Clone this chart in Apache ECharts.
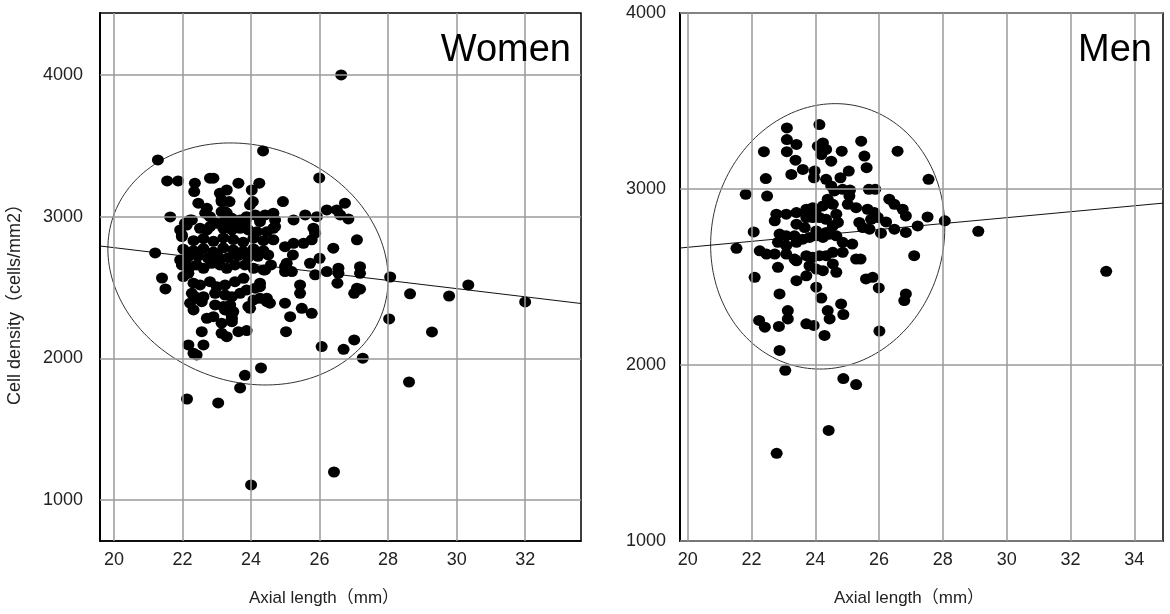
<!DOCTYPE html>
<html><head><meta charset="utf-8">
<script src="https://cdn.jsdelivr.net/npm/echarts@6/dist/echarts.min.js"></script>
<style>html,body{margin:0;padding:0;background:#fff}#c{width:1170px;height:614px}</style>
</head><body><div id="c"></div>
<script>
// Women: [axial length (mm), cell density (cells/mm2)]
const women = [
[26.63,4000],[21.28,3400],[24.35,3464],[21.55,3252],[21.87,3252],[21.64,2998],[21.20,2744],[21.40,2567],[21.50,2490],[22.13,1713],[23.04,1685],[24.00,1107],[26.42,1198],[23.82,1880],[23.68,1791],[24.29,1932],[28.61,1833],[29.28,2186],[28.64,2455],[29.78,2440],[30.34,2518],[32.00,2398],[28.06,2574],[28.03,2278],[27.26,2001],[26.06,2083],[26.70,2064],[27.01,2130],[25.99,3273],
[22.80,3271],[22.90,3271],[22.36,3236],[22.34,3177],[23.63,3236],[24.24,3236],[24.02,3188],[23.09,3165],[23.29,3188],[23.14,3106],[23.37,3106],[24.05,3106],[23.97,3083],[24.93,3106],[26.74,3095],[26.21,3047],[26.50,3047],[26.60,3012],[26.84,2984],[22.46,3095],[22.71,3059],[22.66,3024],[22.22,2977],[22.07,2953],[21.93,2906],[21.98,2871],[22.51,2918],[22.80,2930],[23.00,2953],[23.24,3036],[23.24,2977],[23.43,2941],[23.68,2977],[23.87,3000],[24.12,3012],[24.41,3012],[24.65,3024],[24.70,2977],[24.65,2918],[25.24,2977],[25.58,3012],[25.92,3000],[25.82,2918],[25.87,2883],[25.77,2836],[25.53,2812],[25.24,2812],[24.99,2788],[24.65,2836],[26.40,2777],[27.09,2836],
[23.14,3118],[22.80,3000],[23.14,3035],[23.29,3024],[23.44,2988],[23.87,2988],[23.82,2953],[24.26,2965],[22.27,2977],[22.12,2941],[21.98,2859],[22.71,2906],[23.19,2918],[23.44,2906],[23.68,2918],[23.92,2906],[24.17,2894],[24.46,2894],[24.70,2930],
[22.32,2830],[22.61,2845],[22.90,2826],[23.19,2850],[23.48,2838],[23.77,2820],[24.07,2848],[24.36,2830],
[22.02,2770],[22.32,2760],[22.61,2775],[22.90,2750],[23.19,2780],[23.48,2765],[23.77,2755],[24.07,2772],[24.36,2760],
[22.16,2715],[22.45,2722],[22.74,2708],[23.04,2718],[23.33,2710],[23.62,2725],[23.91,2712],[24.20,2720],
[21.93,2694],[22.02,2577],[22.22,2647],[22.17,2600],
[21.98,2659],[22.41,2659],[22.61,2635],[22.85,2671],[23.09,2659],[23.29,2635],[23.53,2659],[23.82,2659],[24.07,2635],[24.36,2624],
[22.32,2530],[22.51,2518],[22.80,2541],[23.00,2506],[23.24,2518],[23.53,2541],[23.78,2565],[24.12,2495],[24.26,2530],
[22.27,2459],[22.36,2435],[22.61,2435],[22.95,2459],[23.24,2447],[23.44,2435],[23.68,2459],[23.87,2483],
[22.22,2389],[22.56,2400],[22.95,2377],[23.19,2365],[23.39,2377],[23.48,2330],[23.92,2365],[24.07,2412],[24.26,2424],[24.46,2424],
[24.26,2506],[24.46,2400],[23.97,2353],
[22.32,2342],[22.71,2283],[22.90,2294],[23.44,2283],[23.44,2259],[23.14,2248],[22.56,2188],[23.14,2177],[23.29,2153],
[23.63,2188],[23.87,2196],[23.43,2306],[23.24,2342],
[22.17,2095],[22.32,2036],[22.41,2024],[22.61,2095],
[24.99,2389],[25.14,2294],[25.48,2353],[25.77,2318],[25.02,2188],[25.43,2518],[25.43,2459],[25.87,2589],[26.21,2612],[26.55,2636],[26.55,2600],[26.52,2530],[27.18,2647],[27.18,2600],[27.09,2495],[27.01,2459],[27.18,2488],[26.00,2706],[25.72,2671],[25.04,2671],[24.99,2612],[25.19,2612],[25.22,2730],[24.58,2659],[24.41,2624],[24.50,2730],[24.99,2647],[24.55,2389]
];
// Men: [axial length (mm), cell density (cells/mm2)]
const men = [
[23.11,3347],[24.13,3366],[23.11,3281],[23.41,3253],[22.39,3212],[23.11,3212],[24.08,3243],[24.24,3262],[24.19,3196],[24.34,3225],[24.83,3215],[25.44,3272],[25.54,3187],[25.61,3121],[26.58,3215],[23.38,3164],[23.61,3111],[24.50,3158],[23.25,3083],[23.98,3102],[23.96,3064],[24.34,3055],[24.50,3017],[24.60,2989],[24.79,3064],[25.05,3102],[22.45,3059],[22.49,2960],[21.82,2970],[25.09,2994],[25.68,2998],[25.88,2998],[27.55,3055],[26.32,2942],[26.48,2913],[26.74,2885],[26.84,2847],[27.52,2841],[28.06,2819],[27.21,2790],[26.84,2753],[26.06,2749],[26.48,2772],[26.22,2813],[25.64,2885],[25.85,2866],[25.75,2828],[25.96,2838],[25.02,2913],[25.28,2894],[25.38,2810],[25.49,2781],[25.70,2772],[24.39,2942],[24.55,2913],[24.24,2904],[24.03,2885],[24.66,2857],[24.71,2810],
[22.78,2857],[23.09,2857],[23.41,2866],[23.72,2885],[23.92,2894],[23.72,2838],[23.92,2838],[24.13,2838],[24.34,2828],
[22.73,2819],[23.41,2800],[23.67,2781],[24.03,2762],[24.34,2753],[24.55,2790],
[22.07,2756],[21.53,2663],[22.26,2649],[22.47,2630],[22.73,2630],[22.88,2744],[23.09,2734],[23.35,2734],
[22.83,2697],[23.09,2678],[23.41,2697],[23.61,2715],[23.82,2725],[24.03,2734],[24.24,2725],[24.45,2743],[24.66,2734],[24.86,2697],
[23.09,2630],[23.35,2602],[23.72,2621],[23.92,2612],[24.13,2621],[24.34,2621],[24.55,2640],[24.86,2640],
[22.83,2555],[23.41,2592],[23.82,2564],[24.03,2545],[24.24,2536],[24.55,2574],[24.66,2527],
[25.16,2687],[25.42,2602],[27.10,2621],[22.10,2498],[23.41,2479],[23.72,2507],[24.03,2442],[24.19,2380],[22.88,2404],[25.59,2489],[25.80,2498],[25.99,2438],[26.84,2404],[26.79,2366],[23.14,2309],[23.14,2262],[22.24,2253],[22.42,2215],[22.86,2219],[23.72,2234],[23.95,2225],[24.29,2168],[24.39,2309],[24.45,2262],[24.81,2347],[24.88,2287],[26.01,2193],[22.88,2083],[23.06,1970],[24.88,1923],[25.28,1889],[24.42,1628],[22.79,1498],[29.11,2760],[33.12,2532],[24.86,2998],[25.07,2960],[25.28,2602]
];
const womenXTicks = [20,22,24,26,28,30,32];
const menXTicks = [20,22,24,26,28,30,32,34];
const womenYTicks = [1000,2000,3000,4000];
const menYTicks = [1000,2000,3000,4000];
const womenRange = {xMin:19.59, xMax:33.63, yMin:711, yMax:4437};
const menRange = {xMin:19.76, xMax:34.9, yMin:1000, yMax:4000};
// regression lines: density = a + b * axial
const womenFit = {a:3359, b:-28.9};
const menFit = {a:2332, b:16.84};
// ellipses: centre, half-extent in x and y, coupling of the two
const womenEllipse = {cx:23.91, cy:2666, ax:4.09, by:854, cosPhi:-0.125};
const menEllipse = {cx:24.39, cy:2731, ax:3.67, by:754, cosPhi:0.065};

function ellipsePts(e){
  const phi = Math.acos(e.cosPhi), pts=[];
  for(let i=0;i<=180;i++){const t=i/180*2*Math.PI; pts.push([e.cx+e.ax*Math.cos(t), e.cy+e.by*Math.cos(t-phi)]);}
  return pts;
}
function fitPts(f,r){return [[r.xMin,f.a+f.b*r.xMin],[r.xMax,f.a+f.b*r.xMax]];}

const FONT = 'Arial, "Liberation Sans", "Noto Sans CJK JP", sans-serif';
const gridLine = {color:'#9a9a9a', width:1.5, type:'solid'};
function gridSeries(i, xt, yt){
  return {type:'line', xAxisIndex:i, yAxisIndex:i, data:[], silent:true, z:1,
    markLine:{silent:true, symbol:['none','none'], animation:false, label:{show:false}, lineStyle:gridLine,
      data: xt.map(v=>({xAxis:v})).concat(yt.map(v=>({yAxis:v})))}};
}
const plain = v => String(v);
function xAxis(i, r, ticks){
  return {type:'value', gridIndex:i, min:r.xMin, max:r.xMax, splitLine:{show:false},
    axisLine:{show:true, onZero:false, lineStyle:{color:'#000', width:1.5}}, axisTick:{show:false},
    axisLabel:{customValues:ticks, formatter:plain, color:'#222', fontSize:18, fontFamily:FONT, margin:10}};
}
function yAxis(i, r, ticks, margin){
  return {type:'value', gridIndex:i, min:r.yMin, max:r.yMax, splitLine:{show:false},
    axisLine:{show:true, onZero:false, lineStyle:{color:'#000', width:2}}, axisTick:{show:false},
    axisLabel:{customValues:ticks, formatter:plain, color:'#222', fontSize:18, fontFamily:FONT, margin:margin}};
}
const dot = {color:'#000', opacity:1};
const chart = echarts.init(document.getElementById('c'));
chart.setOption({
  animation:false,
  grid:[
    {left:100, top:13, width:481, height:528, show:true, borderColor:'#000', borderWidth:1.5, backgroundColor:'#fff'},
    {left:680, top:13, width:483, height:528, show:true, borderColor:'#000', borderWidth:1.5, backgroundColor:'#fff'}
  ],
  xAxis:[xAxis(0,womenRange,womenXTicks), xAxis(1,menRange,menXTicks)],
  yAxis:[yAxis(0,womenRange,womenYTicks,17), yAxis(1,menRange,menYTicks,14)],
  series:[
    gridSeries(0,womenXTicks,womenYTicks),
    gridSeries(1,menXTicks,menYTicks),
    {type:'line', xAxisIndex:0, yAxisIndex:0, data:ellipsePts(womenEllipse), showSymbol:false, smooth:false, lineStyle:{color:'#333', width:1}, z:2, silent:true},
    {type:'line', xAxisIndex:1, yAxisIndex:1, data:ellipsePts(menEllipse), showSymbol:false, smooth:false, lineStyle:{color:'#333', width:1}, z:2, silent:true},
    {type:'line', xAxisIndex:0, yAxisIndex:0, data:fitPts(womenFit,womenRange), showSymbol:false, lineStyle:{color:'#111', width:1}, z:2, silent:true},
    {type:'line', xAxisIndex:1, yAxisIndex:1, data:fitPts(menFit,menRange), showSymbol:false, lineStyle:{color:'#111', width:1}, z:2, silent:true},
    {type:'scatter', xAxisIndex:0, yAxisIndex:0, data:women, symbol:'circle', symbolSize:[12,11], itemStyle:dot, z:3},
    {type:'scatter', xAxisIndex:1, yAxisIndex:1, data:men, symbol:'circle', symbolSize:[12,11], itemStyle:dot, z:3}
  ],
  graphic:[
    {type:'text', x:571, y:51, style:{text:'Women', font:'38px '+FONT, fill:'#000', align:'right', verticalAlign:'middle'}, z:10},
    {type:'text', x:1152, y:51, style:{text:'Men', font:'38px '+FONT, fill:'#000', align:'right', verticalAlign:'middle'}, z:10},
    {type:'text', x:324, y:598, style:{text:'Axial length（mm）', font:'17px '+FONT, fill:'#222', align:'center', verticalAlign:'middle'}},
    {type:'text', x:909, y:598, style:{text:'Axial length（mm）', font:'17px '+FONT, fill:'#222', align:'center', verticalAlign:'middle'}},
    {type:'text', x:15, y:300, rotation:Math.PI/2, style:{text:'Cell density（cells/mm2）', font:'18px '+FONT, fill:'#222', align:'center', verticalAlign:'middle'}}
  ]
});
</script></body></html>
